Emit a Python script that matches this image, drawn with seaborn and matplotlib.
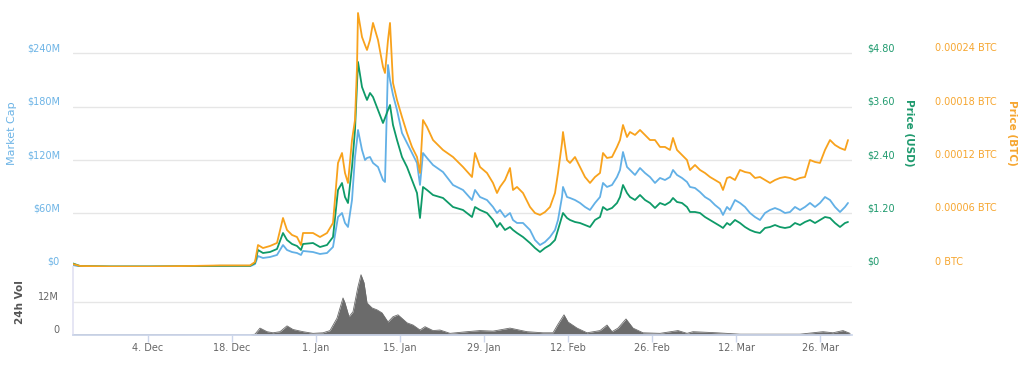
import numpy as np
import pandas as pd
import seaborn as sns
import matplotlib
matplotlib.use('Agg')
import matplotlib.pyplot as plt
import matplotlib.dates as mdates

# values (Nov 2017 - Mar 2018)
times = [
    "2017-11-21 12:00", "2017-11-22 16:00", "2017-11-27 16:00", "2017-12-04 08:00", "2017-12-11 00:00",
    "2017-12-16 00:00", "2017-12-21 00:00", "2017-12-21 20:00", "2017-12-22 08:00", "2017-12-23 04:00",
    "2017-12-24 08:00", "2017-12-25 12:00", "2017-12-26 12:00", "2017-12-27 04:00", "2017-12-28 00:00",
    "2017-12-28 20:00", "2017-12-29 12:00", "2017-12-29 20:00", "2017-12-31 12:00", "2018-01-01 16:00",
    "2018-01-02 20:00", "2018-01-03 20:00", "2018-01-04 16:00", "2018-01-05 08:00", "2018-01-05 20:00",
    "2018-01-06 08:00", "2018-01-07 00:00", "2018-01-07 12:00", "2018-01-07 20:00", "2018-01-08 00:00",
    "2018-01-08 16:00", "2018-01-09 04:00", "2018-01-09 12:00", "2018-01-10 00:00", "2018-01-10 12:00",
    "2018-01-11 08:00", "2018-01-12 04:00", "2018-01-12 12:00", "2018-01-13 00:00", "2018-01-13 08:00",
    "2018-01-13 20:00", "2018-01-14 12:00", "2018-01-15 08:00", "2018-01-16 04:00", "2018-01-17 00:00",
    "2018-01-17 20:00", "2018-01-18 08:00", "2018-01-18 20:00", "2018-01-19 12:00", "2018-01-20 12:00",
    "2018-01-22 04:00", "2018-01-23 20:00", "2018-01-25 12:00", "2018-01-27 00:00", "2018-01-27 12:00",
    "2018-01-28 08:00", "2018-01-29 12:00", "2018-01-30 12:00", "2018-01-31 04:00", "2018-01-31 16:00",
    "2018-02-01 12:00", "2018-02-02 08:00", "2018-02-02 20:00", "2018-02-03 12:00", "2018-02-04 12:00",
    "2018-02-05 16:00", "2018-02-06 12:00", "2018-02-07 08:00", "2018-02-08 04:00", "2018-02-09 00:00",
    "2018-02-09 20:00", "2018-02-10 08:00", "2018-02-11 00:00", "2018-02-11 04:00", "2018-02-11 20:00",
    "2018-02-12 08:00", "2018-02-13 04:00", "2018-02-14 00:00", "2018-02-14 20:00", "2018-02-15 16:00",
    "2018-02-16 12:00", "2018-02-17 08:00", "2018-02-17 20:00", "2018-02-18 12:00", "2018-02-19 08:00",
    "2018-02-20 04:00", "2018-02-20 16:00", "2018-02-21 04:00", "2018-02-21 20:00", "2018-02-22 08:00",
    "2018-02-23 04:00", "2018-02-24 00:00", "2018-02-24 20:00", "2018-02-25 16:00", "2018-02-26 12:00",
    "2018-02-27 08:00", "2018-02-28 04:00", "2018-03-01 00:00", "2018-03-01 12:00", "2018-03-02 04:00",
    "2018-03-03 00:00", "2018-03-03 20:00", "2018-03-04 08:00", "2018-03-05 04:00", "2018-03-06 00:00",
    "2018-03-06 20:00", "2018-03-07 16:00", "2018-03-08 12:00", "2018-03-09 08:00", "2018-03-09 20:00",
    "2018-03-10 12:00", "2018-03-11 00:00", "2018-03-11 20:00", "2018-03-12 16:00", "2018-03-13 12:00",
    "2018-03-14 08:00", "2018-03-15 04:00", "2018-03-16 00:00", "2018-03-16 20:00", "2018-03-17 16:00",
    "2018-03-18 12:00", "2018-03-19 08:00", "2018-03-20 04:00", "2018-03-21 00:00", "2018-03-21 20:00",
    "2018-03-22 16:00", "2018-03-23 12:00", "2018-03-24 08:00", "2018-03-25 04:00", "2018-03-26 00:00",
    "2018-03-26 20:00", "2018-03-27 16:00", "2018-03-28 12:00", "2018-03-29 08:00", "2018-03-30 04:00",
    "2018-03-30 16:00",
]

# market cap in millions of USD
market_cap_m = [
    1.9, 0.2, 0.1, 0.1, 0.2, 0.45, 0.45, 3.0, 12.0, 9.8,
    10.9, 13.2, 24.4, 18.8, 16.5, 15.4, 13.2, 17.7, 16.5, 14.3,
    15.4, 22.2, 55.9, 60.4, 49.2, 44.7, 75.0, 123.4, 142.5, 153.8,
    131.3, 120.0, 122.3, 123.4, 116.7, 112.2, 97.5, 95.3, 226.9, 210.0,
    193.2, 176.3, 150.4, 139.2, 127.9, 116.7, 92.0, 127.9, 122.3, 114.4,
    106.5, 91.9, 86.3, 75.0, 86.3, 78.4, 75.0, 67.2, 60.4, 63.8,
    55.9, 60.4, 52.5, 49.2, 49.2, 41.3, 30.0, 24.4, 27.8, 33.4,
    41.3, 52.5, 78.4, 89.7, 78.4, 77.3, 75.0, 71.7, 67.2, 63.8,
    71.7, 78.4, 94.2, 89.7, 91.9, 100.9, 108.8, 129.0, 112.2, 108.8,
    103.2, 111.0, 105.4, 100.9, 94.2, 99.8, 97.5, 100.9, 108.8, 103.2,
    99.8, 95.3, 89.7, 88.5, 84.0, 78.4, 75.0, 69.4, 64.9, 58.2,
    67.2, 63.8, 75.0, 71.7, 67.2, 60.4, 55.9, 52.5, 60.4, 63.8,
    66.0, 63.8, 60.4, 61.5, 67.2, 63.8, 67.2, 71.7, 67.2, 71.7,
    78.4, 75.0, 67.2, 61.5, 67.2, 71.7,
]

price_usd = [
    0.072, 0.016, 0.005, 0.005, 0.011, 0.020, 0.020, 0.083, 0.376, 0.308,
    0.331, 0.398, 0.758, 0.601, 0.511, 0.466, 0.376, 0.511, 0.533, 0.443,
    0.488, 0.668, 1.726, 1.883, 1.568, 1.433, 2.243, 3.076, 4.133, 4.606,
    4.043, 3.863, 3.751, 3.908, 3.818, 3.526, 3.233, 3.346, 3.526, 3.638,
    3.188, 2.851, 2.468, 2.243, 1.951, 1.658, 1.096, 1.793, 1.726, 1.613,
    1.546, 1.343, 1.276, 1.118, 1.343, 1.276, 1.208, 1.051, 0.893, 0.983,
    0.826, 0.893, 0.826, 0.758, 0.668, 0.533, 0.421, 0.331, 0.421, 0.488,
    0.601, 0.826, 1.118, 1.208, 1.096, 1.051, 1.006, 0.983, 0.938, 0.893,
    1.051, 1.118, 1.343, 1.276, 1.321, 1.433, 1.568, 1.838, 1.658, 1.568,
    1.501, 1.613, 1.501, 1.433, 1.321, 1.433, 1.388, 1.456, 1.546, 1.456,
    1.433, 1.343, 1.231, 1.231, 1.208, 1.118, 1.051, 0.983, 0.916, 0.871,
    0.983, 0.938, 1.051, 0.983, 0.893, 0.826, 0.781, 0.758, 0.871, 0.893,
    0.938, 0.893, 0.871, 0.893, 0.983, 0.938, 1.006, 1.051, 0.983, 1.051,
    1.118, 1.096, 0.983, 0.893, 0.983, 1.006,
]

# price in satoshi (1e-8 BTC)
price_sats = [
    300, 80, 20, 20, 80, 140, 140, 530, 2440, 2100,
    2330, 2670, 5480, 4130, 3570, 3340, 2440, 3790, 3790, 3340,
    3790, 4920, 11670, 12790, 10540, 9420, 14250, 16500, 22470, 28540,
    25840, 24940, 24380, 25500, 27420, 25500, 22470, 21790, 25500, 27420,
    20670, 18750, 16840, 15040, 13470, 12340, 10540, 16500, 15720, 14250,
    13130, 12340, 11220, 10090, 12790, 11220, 10540, 9420, 8290, 8970,
    9750, 11100, 8630, 8970, 8290, 6720, 6040, 5820, 6150, 6720,
    8290, 10540, 13920, 15150, 12000, 11670, 12340, 11220, 10090, 9420,
    10090, 10540, 12790, 12230, 12340, 13470, 14250, 15940, 14590, 15150,
    14820, 15380, 14820, 14250, 14250, 13470, 13470, 13130, 14480, 13130,
    12570, 12000, 10880, 11440, 10880, 10540, 10090, 9750, 9420, 8630,
    9980, 10090, 9750, 10880, 10650, 10540, 9980, 10090, 9750, 9420,
    9750, 9980, 10090, 9980, 9750, 9980, 10090, 12000, 11780, 11670,
    13130, 14250, 13690, 13350, 13130, 14250,
]

vol_times = [
    "2017-11-21 12:00", "2017-12-04 08:00", "2017-12-21 00:00", "2017-12-21 20:00", "2017-12-22 16:00",
    "2017-12-23 20:00", "2017-12-24 20:00", "2017-12-26 00:00", "2017-12-27 04:00", "2017-12-28 04:00",
    "2017-12-29 20:00", "2017-12-31 12:00", "2018-01-02 04:00", "2018-01-03 08:00", "2018-01-04 12:00",
    "2018-01-05 12:00", "2018-01-05 20:00", "2018-01-06 12:00", "2018-01-07 04:00", "2018-01-08 00:00",
    "2018-01-08 12:00", "2018-01-09 00:00", "2018-01-09 12:00", "2018-01-10 08:00", "2018-01-11 04:00",
    "2018-01-12 00:00", "2018-01-13 00:00", "2018-01-13 20:00", "2018-01-14 16:00", "2018-01-16 04:00",
    "2018-01-17 04:00", "2018-01-18 08:00", "2018-01-19 04:00", "2018-01-20 12:00", "2018-01-21 16:00",
    "2018-01-23 08:00", "2018-01-26 04:00", "2018-01-28 08:00", "2018-01-30 12:00", "2018-02-02 08:00",
    "2018-02-05 04:00", "2018-02-07 20:00", "2018-02-09 12:00", "2018-02-10 08:00", "2018-02-11 08:00",
    "2018-02-12 00:00", "2018-02-13 12:00", "2018-02-15 04:00", "2018-02-17 08:00", "2018-02-18 12:00",
    "2018-02-19 08:00", "2018-02-20 08:00", "2018-02-21 16:00", "2018-02-22 20:00", "2018-02-24 12:00",
    "2018-02-27 08:00", "2018-03-02 08:00", "2018-03-03 20:00", "2018-03-04 20:00", "2018-03-08 20:00",
    "2018-03-12 16:00", "2018-03-17 04:00", "2018-03-22 16:00", "2018-03-26 12:00", "2018-03-28 04:00",
    "2018-03-29 20:00", "2018-03-31 00:00",
]
# 24h volume in millions of USD
vol_m = [
    0.05, 0.05, 0.0, 0.3, 2.5, 1.2, 0.8, 1.2, 3.3, 2.0,
    1.2, 0.6, 0.8, 1.6, 6.1, 13.4, 11.6, 6.6, 8.4, 17.5,
    21.8, 18.9, 11.6, 9.8, 9.1, 8.0, 4.7, 6.6, 7.3, 4.4,
    3.6, 1.8, 3.0, 1.6, 1.8, 0.6, 1.2, 1.6, 1.4, 2.5,
    1.2, 0.8, 0.8, 3.9, 7.3, 4.7, 2.5, 0.8, 1.6, 3.6,
    1.2, 2.5, 5.8, 2.5, 0.8, 0.6, 1.6, 0.6, 1.2, 0.8,
    0.3, 0.3, 0.3, 1.2, 0.8, 1.6, 0.6,
]

cap_ticks = [0, 60, 120, 180, 240]
cap_labels = ['$0', '$60M', '$120M', '$180M', '$240M']
usd_ticks = [0, 1.2, 2.4, 3.6, 4.8]
usd_labels = ['$0', '$1.20', '$2.40', '$3.60', '$4.80']
btc_ticks = [0, 0.00006, 0.00012, 0.00018, 0.00024]
btc_labels = ['0 BTC', '0.00006 BTC', '0.00012 BTC', '0.00018 BTC', '0.00024 BTC']
vol_ticks = [0, 12]
vol_labels = ['0', '12M']
date_ticks = ['2017-12-04', '2017-12-18', '2018-01-01', '2018-01-15', '2018-01-29',
              '2018-02-12', '2018-02-26', '2018-03-12', '2018-03-26']

df = pd.DataFrame({'time': pd.to_datetime(times),
                   'market_cap': market_cap_m,
                   'price_usd': price_usd,
                   'price_btc': np.array(price_sats) / 1e8})
vol = pd.DataFrame({'time': pd.to_datetime(vol_times), 'volume': vol_m})

blue = '#62b0e6'
green = '#0e9a68'
orange = '#f8a21c'
blue_txt = '#6db4e6'
green_txt = '#1f9a6e'
orange_txt = '#f6a630'
grey_txt = '#666666'
grid_c = '#e6e6e6'

sns.set_theme(style='white')
plt.rcParams['font.family'] = ['DejaVu Sans']

W, H = 1024, 365
PT = 0.72  # points per pixel at 100 dpi
fig = plt.figure(figsize=(W / 100, H / 100), dpi=100)
left, right = 73, 852
ax = fig.add_axes([left / W, 1 - 266.7 / H, (right - left) / W, (266.7 - 8) / H])
axv = fig.add_axes([left / W, 1 - 335 / H, (right - left) / W, (335 - 266.7) / H], sharex=ax)
ax2 = ax.twinx()
ax3 = ax.twinx()

sns.lineplot(data=df, x='time', y='market_cap', ax=ax, color=blue, lw=1.3)
sns.lineplot(data=df, x='time', y='price_usd', ax=ax2, color=green, lw=1.3)
sns.lineplot(data=df, x='time', y='price_btc', ax=ax3, color=orange, lw=1.3)

axv.fill_between(vol['time'], vol['volume'], color='#6b6b6b', lw=0)
sns.lineplot(data=vol, x='time', y='volume', ax=axv, color='#6b6b6b', lw=0.6)

# scales: 60M <-> $1.20 <-> 0.00006 BTC
ax.set_ylim(0, 291)
ax2.set_ylim(0, 5.82)
ax3.set_ylim(0, 0.000291)
axv.set_ylim(0, 24.7)

ax.set_yticks(cap_ticks, labels=cap_labels, va='bottom')
ax2.set_yticks(usd_ticks, labels=usd_labels, va='bottom')
ax3.set_yticks(btc_ticks, labels=btc_labels, va='bottom')
axv.set_yticks(vol_ticks, labels=vol_labels, va='bottom')

ax.tick_params(axis='y', length=0, pad=13 * PT, labelsize=7, labelcolor=blue_txt)
ax2.tick_params(axis='y', length=0, pad=15 * PT, labelsize=7, labelcolor=green_txt)
ax3.tick_params(axis='y', length=0, pad=83 * PT, labelsize=7, labelcolor=orange_txt)
axv.tick_params(axis='y', length=0, pad=14 * PT, labelsize=7, labelcolor=grey_txt)

ax.grid(False)
ax.yaxis.grid(True, color=grid_c, lw=1)
axv.grid(False)
axv.yaxis.grid(True, color=grid_c, lw=1)
ax2.grid(False)
ax3.grid(False)
for a in (ax, ax2, ax3, axv):
    for s in a.spines.values():
        s.set_visible(False)
axv.spines['bottom'].set_visible(True)
axv.spines['bottom'].set_color('#ccd6eb')
axv.spines['left'].set_visible(True)
axv.spines['left'].set_color('#e3e3f3')

ax.set_xlabel('')
axv.set_xlabel('')
ax.set_ylabel('Market Cap', color=blue_txt, fontsize=8, va='center', ha='center')
ax.yaxis.set_label_coords(-0.078, 0.517)
ax2.set_ylabel('Price (USD)', color=green_txt, fontsize=7.5, fontweight='bold',
               rotation=270, va='center', ha='center')
ax2.yaxis.set_label_coords(1.073, 0.517)
ax3.set_ylabel('Price (BTC)', color=orange_txt, fontsize=7.5, fontweight='bold',
               rotation=270, va='center', ha='center')
ax3.yaxis.set_label_coords(1.205, 0.517)
axv.set_ylabel('24h Vol', color='#555555', fontsize=7.5, fontweight='bold',
               va='center', ha='center')
axv.yaxis.set_label_coords(-0.068, 0.48)

ax.tick_params(axis='x', bottom=False, labelbottom=False)
axv.set_xticks(pd.to_datetime(date_ticks))
axv.xaxis.set_major_formatter(mdates.DateFormatter('%-d. %b'))
axv.tick_params(axis='x', bottom=True, length=7 * PT, width=1, color='#ccd6eb', pad=1,
                labelsize=7, labelcolor=grey_txt)
axv.set_xlim(pd.Timestamp('2017-11-21 12:00'), pd.Timestamp('2018-03-31 08:00'))

fig.savefig('out.png', dpi=100)
